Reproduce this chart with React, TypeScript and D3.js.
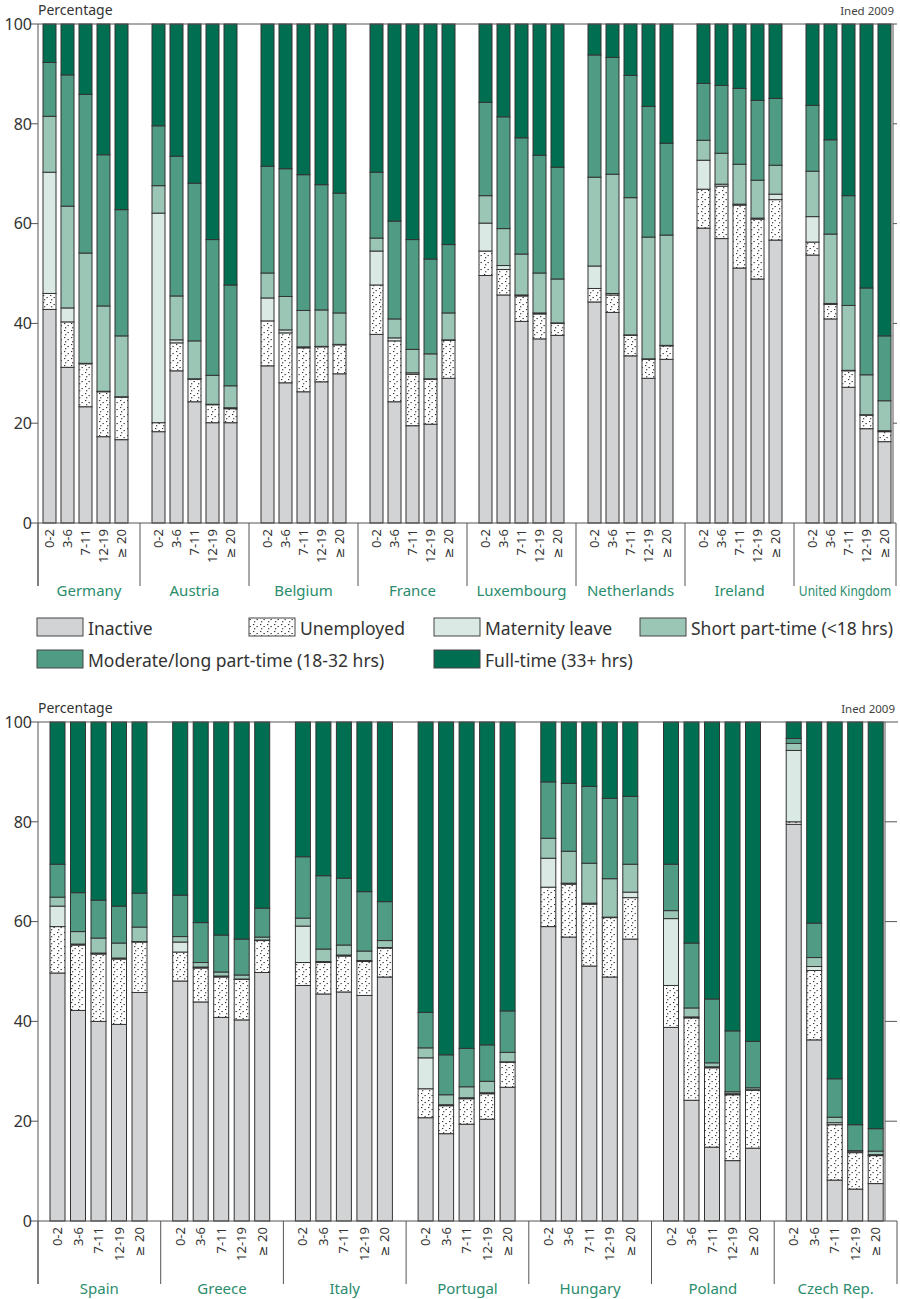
import React from "react";
import * as d3 from "d3";

const ageGroups = ["0-2", "3-6", "7-11", "12-19", "≥ 20"];
const countriesTop = ["Germany", "Austria", "Belgium", "France", "Luxembourg", "Netherlands", "Ireland", "United Kingdom"];
const countriesBottom = ["Spain", "Greece", "Italy", "Portugal", "Hungary", "Poland", "Czech Rep."];
const statusKeys = ["inactive", "unemployed", "maternity", "shortPT", "longPT", "fullTime"];
const statusLabels = [
  "Inactive",
  "Unemployed",
  "Maternity leave",
  "Short part-time (<18 hrs)",
  "Moderate/long part-time (18-32 hrs)",
  "Full-time (33+ hrs)",
];
const statusColors = ["#d2d3d5", "url(#dots)", "#dae9e4", "#9bc6b6", "#4f9b84", "#006f51"];
const yTicks = [0, 20, 40, 60, 80, 100];

// top panel: 5 age groups per country, country after country (percent)
const inactiveTop = [42.8, 31.2, 23.3, 17.3, 16.7, 18.3, 30.5, 24.3, 20.1, 20.1, 31.5, 28.1, 26.3, 28.3, 29.9, 37.8, 24.3, 19.5, 19.8, 29.0, 49.6, 45.7, 40.4, 36.9, 37.6, 44.3, 42.2, 33.5, 29.0, 32.8, 59.1, 57.0, 51.1, 48.9, 56.7, 53.7, 40.9, 27.2, 18.9, 16.3];
const unemployedTop = [3.2, 9.1, 8.6, 9.0, 8.5, 1.8, 5.6, 4.5, 3.6, 2.8, 9.0, 10.0, 8.8, 7.0, 5.8, 9.9, 12.2, 10.3, 9.0, 7.6, 4.9, 5.1, 5.1, 5.0, 2.4, 2.7, 3.5, 4.1, 3.8, 2.7, 7.8, 10.5, 12.6, 12.0, 8.1, 2.6, 2.9, 3.3, 2.7, 2.0];
const maternityTop = [24.3, 2.8, 0.1, 0.1, 0.1, 42.0, 0.6, 0.1, 0.1, 0.2, 4.6, 0.6, 0.2, 0.1, 0.1, 6.8, 0.6, 0.3, 0.1, 0.1, 5.6, 0.8, 0.2, 0.2, 0.1, 4.5, 0.3, 0.1, 0.1, 0.1, 5.8, 0.4, 0.2, 0.2, 1.1, 5.1, 0.2, 0.1, 0.1, 0.2];
const shortPTTop = [11.2, 20.4, 22.1, 17.1, 12.2, 5.5, 8.8, 7.6, 5.8, 4.4, 5.0, 6.7, 7.3, 7.3, 6.3, 2.6, 3.8, 4.7, 5.0, 5.4, 5.5, 7.4, 8.2, 8.0, 8.8, 17.8, 23.9, 27.5, 24.4, 22.1, 4.0, 6.2, 8.0, 7.6, 5.8, 9.1, 13.9, 13.0, 8.0, 6.0];
const longPTTop = [10.8, 26.3, 31.8, 30.3, 25.3, 12.0, 28.0, 31.6, 27.2, 20.2, 21.4, 25.6, 27.2, 25.1, 24.0, 13.2, 19.6, 22.0, 19.0, 13.7, 18.7, 22.4, 23.3, 23.6, 22.4, 24.5, 23.4, 24.5, 26.2, 18.4, 11.4, 13.6, 15.2, 16.0, 13.4, 13.2, 18.9, 22.0, 17.4, 13.0];
const fullTimeTop = [7.7, 10.2, 14.1, 26.2, 37.2, 20.4, 26.5, 31.9, 43.2, 52.3, 28.5, 29.0, 30.2, 32.2, 33.9, 29.7, 39.5, 43.2, 47.1, 44.2, 15.7, 18.6, 22.8, 26.3, 28.7, 6.2, 6.7, 10.3, 16.5, 23.9, 11.9, 12.3, 12.9, 15.3, 14.9, 16.3, 23.2, 34.4, 52.9, 62.5];

// bottom panel
const inactiveBottom = [49.7, 42.2, 40.0, 39.4, 45.8, 48.1, 43.9, 40.8, 40.3, 49.8, 47.2, 45.5, 45.9, 45.2, 48.9, 20.7, 17.5, 19.4, 20.4, 26.8, 59.0, 56.9, 51.1, 48.9, 56.5, 38.8, 24.2, 14.8, 12.1, 14.6, 79.5, 36.3, 8.2, 6.4, 7.5];
const unemployedBottom = [9.3, 13.1, 13.5, 13.1, 10.1, 5.8, 6.8, 8.1, 8.1, 6.4, 4.6, 6.3, 7.2, 6.8, 5.8, 5.8, 5.6, 5.1, 5.1, 5.0, 7.9, 10.6, 12.4, 11.9, 8.3, 8.4, 16.5, 15.9, 13.2, 11.6, 0.5, 13.9, 11.1, 7.3, 5.6];
const maternityBottom = [4.1, 0.2, 0.2, 0.2, 0.1, 2.0, 0.2, 0.2, 0.1, 0.1, 7.3, 0.2, 0.2, 0.2, 0.1, 6.2, 0.2, 0.2, 0.2, 0.1, 5.8, 0.2, 0.2, 0.1, 1.1, 13.4, 0.2, 0.2, 0.2, 0.1, 14.3, 0.8, 0.4, 0.3, 0.2];
const shortPTBottom = [1.8, 2.5, 3.0, 3.0, 2.9, 1.1, 0.9, 0.8, 0.8, 0.6, 1.6, 2.5, 2.0, 1.9, 1.4, 2.0, 2.0, 2.2, 2.3, 1.9, 4.0, 6.4, 8.0, 7.7, 5.6, 1.6, 1.8, 0.8, 0.4, 0.4, 1.4, 1.8, 1.1, 0.1, 0.7];
const longPTBottom = [6.6, 7.8, 7.6, 7.4, 6.8, 8.3, 8.0, 7.4, 7.2, 5.8, 12.3, 14.7, 13.4, 11.9, 7.8, 7.1, 8.0, 7.7, 7.3, 8.3, 11.3, 13.6, 15.4, 16.1, 13.6, 9.3, 13.0, 12.8, 12.2, 9.3, 1.0, 6.9, 7.7, 5.2, 4.5];
const fullTimeBottom = [28.5, 34.2, 35.7, 36.9, 34.3, 34.7, 40.2, 42.7, 43.5, 37.3, 27.0, 30.8, 31.3, 34.0, 36.0, 58.2, 66.7, 65.4, 64.7, 57.9, 12.0, 12.3, 12.9, 15.3, 14.9, 28.5, 44.3, 55.5, 61.9, 64.0, 3.3, 40.3, 71.5, 80.7, 81.5];

const FONT = "'Noto Sans', 'DejaVu Sans', sans-serif";
const GREEN_TEXT = "#2a8c6c";
const AXIS = "#555";

type Row = { country: string; age: string; [k: string]: string | number };

interface PanelProps {
  top: number;
  countries: string[];
  series: number[][];
  x0: number;
  groupStep: number;
  barOffset: number;
  barStep: number;
  barWidth: number;
  rightAxis: number;
  rightTickLen: number;
  frameRight: number;
}

function Panel(props: PanelProps) {
  const { top, countries, series, x0, groupStep, barOffset, barStep, barWidth, rightAxis, rightTickLen, frameRight } = props;
  const left = 38;
  const y = d3.scaleLinear().domain([0, 100]).range([top + 499, top]);
  const group = d3
    .scaleBand<string>()
    .domain(countries)
    .range([x0, x0 + groupStep * countries.length]);
  const gap = barStep - barWidth;
  const inner = d3
    .scaleBand<string>()
    .domain(ageGroups)
    .range([barOffset, barOffset + barStep * ageGroups.length - gap])
    .paddingInner(gap / barStep)
    .paddingOuter(0);

  const rows: Row[] = countries.flatMap((c, ci) =>
    ageGroups.map((a, ai) => {
      const r: Row = { country: c, age: a };
      statusKeys.forEach((k, si) => (r[k] = series[si][ci * ageGroups.length + ai]));
      return r;
    })
  );
  const stacked = d3.stack<Row>().keys(statusKeys)(rows);
  const y0 = y(0);
  const sepBottom = y0 + 63;
  const separators = [left, ...countries.slice(1).map((c) => group(c)!), frameRight];

  return (
    <g>
      <text x={left} y={top - 9} fontSize={14} fill="#333" fontFamily={FONT}>
        Percentage
      </text>
      <text x={frameRight - 2} y={top - 9} fontSize={11.5} fill="#444" textAnchor="end" fontFamily={FONT}>
        Ined 2009
      </text>

      {stacked.map((layer, li) => (
        <g key={statusKeys[li]}>
          {layer.map((d) => {
            const row = d.data;
            const x = group(row.country)! + inner(row.age)!;
            return (
              <rect
                key={row.country + row.age}
                x={x}
                y={y(d[1])}
                width={inner.bandwidth()}
                height={Math.max(0, y(d[0]) - y(d[1]))}
                fill={statusColors[li]}
                stroke="#333"
                strokeWidth={1}
              />
            );
          })}
        </g>
      ))}

      {/* frame */}
      <line x1={left} x2={frameRight + 1} y1={top} y2={top} stroke={AXIS} />
      <line x1={left} x2={left} y1={top} y2={sepBottom} stroke={AXIS} />
      <line x1={left} x2={frameRight} y1={y0} y2={y0} stroke={AXIS} />
      <line x1={rightAxis} x2={rightAxis} y1={top} y2={y0} stroke={AXIS} />
      {yTicks.map((t) => (
        <g key={t}>
          <line x1={left - 8} x2={left} y1={y(t)} y2={y(t)} stroke={AXIS} />
          <text x={left - 6} y={y(t)} dy="0.36em" textAnchor="end" fontSize={16} fill="#333" fontFamily={FONT}>
            {t}
          </text>
          {t > 0 && t < 100 && (
            <line x1={rightAxis} x2={rightAxis + rightTickLen} y1={y(t)} y2={y(t)} stroke={AXIS} />
          )}
        </g>
      ))}

      {separators.map((sx, i) => (
        <line key={i} x1={sx} x2={sx} y1={y0} y2={sepBottom} stroke={AXIS} />
      ))}

      {rows.map((r) => {
        const cx = group(r.country)! + inner(r.age)! + inner.bandwidth() / 2;
        return (
          <text
            key={"lab" + r.country + r.age}
            transform={`translate(${cx + 4.5},${y0 + 6}) rotate(-90)`}
            textAnchor="end"
            fontSize={13}
            fill="#333"
            fontFamily={FONT}
          >
            {r.age}
          </text>
        );
      })}

      {countries.map((c, i) => {
        const a = separators[i];
        const b = separators[i + 1];
        const narrow = c === "United Kingdom";
        return (
          <text
            key={c}
            transform={`translate(${(a + b) / 2},${y0 + 73}) scale(${narrow ? 0.86 : 1},1)`}
            textAnchor="middle"
            fontSize={narrow ? 14 : 15}
            fill={GREEN_TEXT}
            fontFamily={FONT}
          >
            {c}
          </text>
        );
      })}
    </g>
  );
}

function Legend() {
  const items = [
    { i: 0, x: 37, y: 618 },
    { i: 1, x: 249, y: 618 },
    { i: 2, x: 434, y: 618 },
    { i: 3, x: 640, y: 618 },
    { i: 4, x: 37, y: 650 },
    { i: 5, x: 434, y: 650 },
  ];
  return (
    <g>
      {items.map(({ i, x, y }) => (
        <g key={i}>
          <rect x={x} y={y} width={46} height={18} fill={statusColors[i]} stroke="#444" strokeWidth={1} />
          <text x={x + 51} y={y + 17} fontSize={17.5} fill="#333" fontFamily={FONT}>
            {statusLabels[i]}
          </text>
        </g>
      ))}
    </g>
  );
}

export default function App() {
  return (
    <svg
      width={900}
      height={1299}
      viewBox="0 0 900 1299"
      style={{ position: "absolute", left: 0, top: 0, background: "#fff" }}
    >
      <defs>
        <pattern id="dots" width={7} height={7} patternUnits="userSpaceOnUse">
          <rect width={7} height={7} fill="#fff" />
          <rect x={1} y={1} width={1.3} height={1.1} fill="#333" />
          <rect x={4.5} y={3} width={1.3} height={1.1} fill="#333" />
          <rect x={2} y={5.2} width={1.3} height={1.1} fill="#333" />
        </pattern>
      </defs>
      <rect width={900} height={1299} fill="#fff" />
      <Panel
        top={24}
        countries={countriesTop}
        series={[inactiveTop, unemployedTop, maternityTop, shortPTTop, longPTTop, fullTimeTop]}
        x0={31}
        groupStep={109}
        barOffset={12}
        barStep={18}
        barWidth={13}
        rightAxis={893}
        rightTickLen={4}
        frameRight={896}
      />
      <Legend />
      <Panel
        top={722}
        countries={countriesBottom}
        series={[inactiveBottom, unemployedBottom, maternityBottom, shortPTBottom, longPTBottom, fullTimeBottom]}
        x0={38}
        groupStep={122.7}
        barOffset={12}
        barStep={20.5}
        barWidth={15}
        rightAxis={885}
        rightTickLen={12}
        frameRight={897}
      />
    </svg>
  );
}
